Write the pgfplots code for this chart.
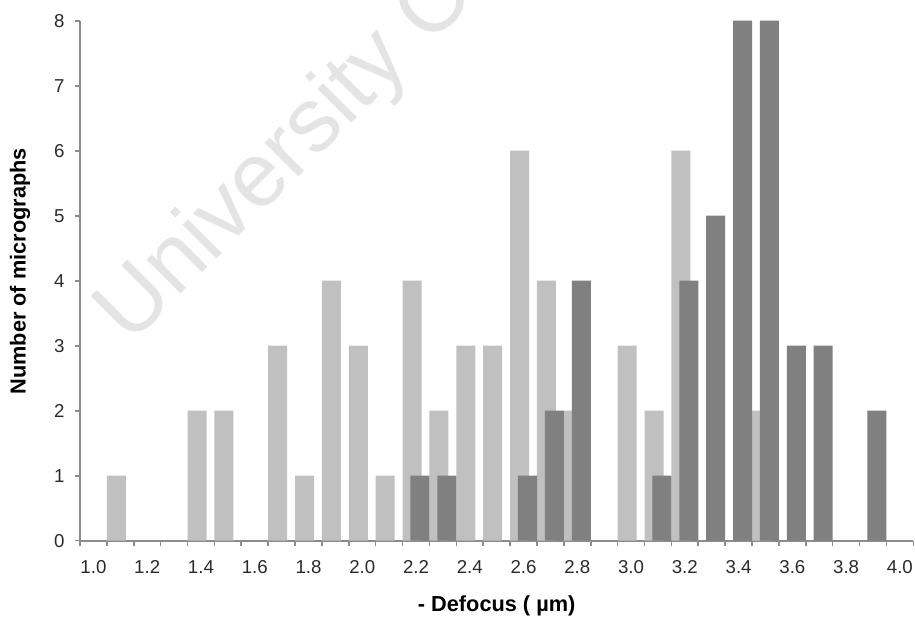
\documentclass[border=0pt]{standalone}
\usepackage{fontspec}
\setmainfont{Liberation Sans}
\usepackage{pgfplots}
\pgfplotsset{compat=1.18}
\definecolor{lightbar}{HTML}{C0C0C0}
\definecolor{darkbar}{HTML}{808080}
\definecolor{axisgray}{HTML}{8C8C8C}
\definecolor{wm}{HTML}{E4E4E4}
\definecolor{tickcol}{HTML}{2A2A2A}
\begin{document}
\begin{tikzpicture}
\useasboundingbox (0,0) rectangle (686.25pt,463.5pt);
\node[text=wm, rotate=45, anchor=base west, inner sep=0pt, font=\fontsize{68}{70}\selectfont, overlay] at (97.5pt,204.5pt) {University Cape Town};
\begin{axis}[
  at={(60pt,57.975pt)}, anchor=south west,
  width=625pt, height=390pt, scale only axis,
  xmin=-0.5, xmax=30.5, ymin=0, ymax=8,
  axis x line*=bottom, axis y line*=left,
  axis line style={axisgray, line width=1.5pt, -},
  ybar,
  xtick={0,2,...,30},
  xticklabels={1.0,1.2,1.4,1.6,1.8,2.0,2.2,2.4,2.6,2.8,3.0,3.2,3.4,3.6,3.8,4.0},
  minor xtick={-0.5,0.5,...,30.5},
  x tick style={draw=none},
  minor x tick style={draw=axisgray, line width=1.2pt},
  ytick={0,1,...,8},
  y tick style={axisgray, line width=1.2pt},
  tick align=outside,
  major tick length=4pt, minor tick length=4pt,
  /pgf/number format/assume math mode=true,
  tick label style={font=\fontsize{14}{16}\selectfont, text=tickcol},
  xticklabel style={yshift=-7pt, text height=10pt, text depth=0pt},
  yticklabel style={xshift=-4pt},
  xlabel={- Defocus ( µm)},
  ylabel={Number of micrographs},
  label style={font=\bfseries\fontsize{16.3}{18}\selectfont},
  xlabel style={at={(axis description cs:0.5,-0.125)}, anchor=center},
  ylabel style={at={(axis description cs:-0.072,0.518)}, anchor=center},
  clip=false,
]
\addplot[fill=lightbar, draw=none, bar width=0.707, bar shift=-0.147] coordinates {
 (1,1) (4,2) (5,2) (7,3) (8,1) (9,4) (10,3) (11,1) (12,4) (13,2) (14,3) (15,3)
 (16,6) (17,4) (18,2) (20,3) (21,2) (22,6) (25,2)};
\addplot[fill=darkbar, draw=none, bar width=0.707, bar shift=0.147] coordinates {
 (12,1) (13,1) (16,1) (17,2) (18,4) (21,1) (22,4) (23,5) (24,8) (25,8) (26,3) (27,3) (29,2)};
\end{axis}
\end{tikzpicture}
\end{document}
